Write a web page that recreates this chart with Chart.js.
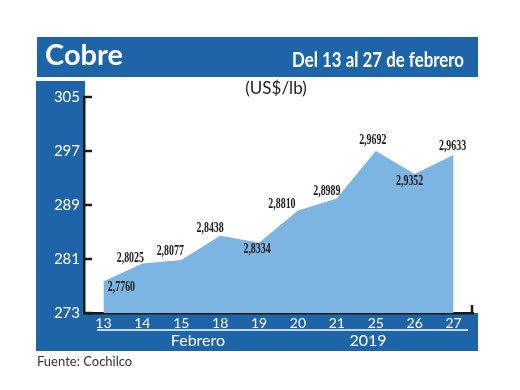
<!DOCTYPE html>
<html>
<head>
<meta charset="utf-8">
<script src="https://cdn.jsdelivr.net/npm/chart.js@4.4.1/dist/chart.umd.min.js"></script>
<style>
  html, body { margin: 0; padding: 0; background: #fff; }
  #wrap { width: 520px; height: 390px; }
</style>
</head>
<body>
<div id="wrap"><canvas id="cobre_chart" width="520" height="390"></canvas></div>
<script>
// DATA
const days = ['13', '14', '15', '18', '19', '20', '21', '25', '26', '27'];
const prices = [2.7760, 2.8025, 2.8077, 2.8438, 2.8334, 2.8810, 2.8989, 2.9692, 2.9352, 2.9633]; // US$/lb
const y_ticks = [273, 281, 289, 297, 305]; // US cents/lb

// price labels use a comma as decimal mark
const price_labels = prices.map(p => p.toFixed(4).replace('.', ','));
// the axis is in cents
const cents = prices.map(p => Math.round(p * 10000) / 100);

const BLUE = '#1e64a8';
const FILL = '#7cb4e2';

// draws text squeezed horizontally
function squeezed(ctx, text, x, y, font, sx, align) {
	ctx.save();
	ctx.font = font;
	const w = ctx.measureText(text).width * sx;
	let left = x;
	if (align === 'center') left = x - w / 2;
	if (align === 'right') left = x - w;
	ctx.translate(left, y);
	ctx.scale(sx, 1);
	ctx.textAlign = 'left';
	ctx.fillText(text, 0, 0);
	ctx.restore();
}

// BACKGROUND, FRAME AND TITLES
const frame_plugin = {
	id: 'frame',
	beforeDraw(chart) {
		const ctx = chart.ctx;
		const area = chart.chartArea;
		ctx.save();
		ctx.fillStyle = '#fff';
		ctx.fillRect(0, 0, chart.width, chart.height);

		ctx.fillStyle = BLUE;
		ctx.fillRect(37, 37, 441, 40);            // header
		ctx.fillRect(36, 81, area.left - 35, 270); // y label column
		ctx.fillRect(36, area.bottom, 442, 351 - area.bottom); // x label band

		ctx.fillStyle = '#fff';
		ctx.textBaseline = 'alphabetic';
		ctx.font = 'bold 29px Lato';
		ctx.fillText('Cobre', 45, 65);
		ctx.font = 'bold 20px Lato';
		const sub = 'Del 13 al 27 de febrero';
		squeezed(ctx, sub, 464, 67, 'bold 20px Lato', 172 / ctx.measureText(sub).width, 'right');

		// separator and period labels
		ctx.strokeStyle = '#fff';
		ctx.lineWidth = 1.5;
		ctx.beginPath();
		ctx.moveTo(97, 330);
		ctx.lineTo(468, 330);
		ctx.stroke();
		ctx.font = '16px Lato';
		ctx.textAlign = 'center';
		ctx.textBaseline = 'middle';
		ctx.fillText('Febrero', 198, 341);
		ctx.fillText('2019', 368, 341);

		ctx.fillStyle = '#222';
		ctx.font = '17px Lato';
		ctx.fillText('(US$/lb)', 276, 89);

		ctx.textAlign = 'left';
		ctx.fillStyle = '#333';
		ctx.font = '13px Lato';
		ctx.fillText('Fuente: Cochilco', 37, 362);
		ctx.restore();
	},
	afterDraw(chart) {
		const ctx = chart.ctx;
		const area = chart.chartArea;
		const y = chart.scales.y;
		ctx.save();
		ctx.strokeStyle = '#1a1a1a';
		ctx.lineWidth = 2.5;
		// inward tick marks on the value axis
		y.ticks.forEach(t => {
			const py = y.getPixelForValue(t.value);
			ctx.beginPath();
			ctx.moveTo(area.left, py);
			ctx.lineTo(area.left + 8, py);
			ctx.stroke();
		});
		// small upturn at the end of the x axis
		ctx.beginPath();
		ctx.moveTo(area.right - 1, area.bottom);
		ctx.lineTo(area.right - 1, area.bottom - 8);
		ctx.stroke();
		ctx.restore();
	}
};

// VALUE LABELS
const value_labels_plugin = {
	id: 'value_labels',
	afterDatasetsDraw(chart, args, opts) {
		const ctx = chart.ctx;
		const meta = chart.getDatasetMeta(0);
		ctx.save();
		ctx.fillStyle = '#1a1a1a';
		ctx.textBaseline = 'middle';
		meta.data.forEach((pt, i) => {
			const off = opts.offsets[i];
			squeezed(ctx, price_labels[i], pt.x + off[0], pt.y + off[1], 'bold 15px "Liberation Serif"', 0.66, 'center');
		});
		ctx.restore();
	}
};

const ctx = document.getElementById('cobre_chart').getContext('2d');

const my_chart = new Chart(ctx, {
	type: 'line',
	data: {
		labels: days,
		datasets: [{
			data: cents,
			fill: 'start',
			backgroundColor: FILL,
			borderColor: FILL,
			borderWidth: 1,
			pointRadius: 0,
			tension: 0
		}]
	},
	options: {
		responsive: false,
		animation: false,
		layout: {
			padding: { left: 36, right: 47, top: 97, bottom: 53 }
		},
		plugins: {
			legend: { display: false },
			tooltip: { enabled: false },
			value_labels: {
				offsets: [[18, 5], [-12, -6], [-11, -9], [-10, -8], [-2, 6], [-16, -7], [-10, -8], [-3, -11], [-5, 7], [-1, -9]]
			}
		},
		scales: {
			x: {
				offset: true,
				afterFit(scale) { scale.height = 24; },
				grid: { display: true, drawOnChartArea: false, drawTicks: false, offset: false },
				border: { display: true, color: '#1a1a1a', width: 2.5 },
				ticks: {
					color: '#fff',
					padding: 2,
					maxRotation: 0,
					autoSkip: false,
					font: { family: 'Lato', size: 14 }
				}
			},
			y: {
				min: 273,
				max: 305,
				afterBuildTicks(scale) { scale.ticks = y_ticks.map(v => ({ value: v })); },
				afterFit(scale) { scale.width = 48; },
				grid: { display: true, drawOnChartArea: false, drawTicks: false },
				border: { display: true, color: '#1a1a1a', width: 2.5 },
				ticks: {
					color: '#fff',
					padding: 4,
					font: { family: 'Lato', size: 15 }
				}
			}
		}
	},
	plugins: [frame_plugin, value_labels_plugin]
});
</script>
</body>
</html>
